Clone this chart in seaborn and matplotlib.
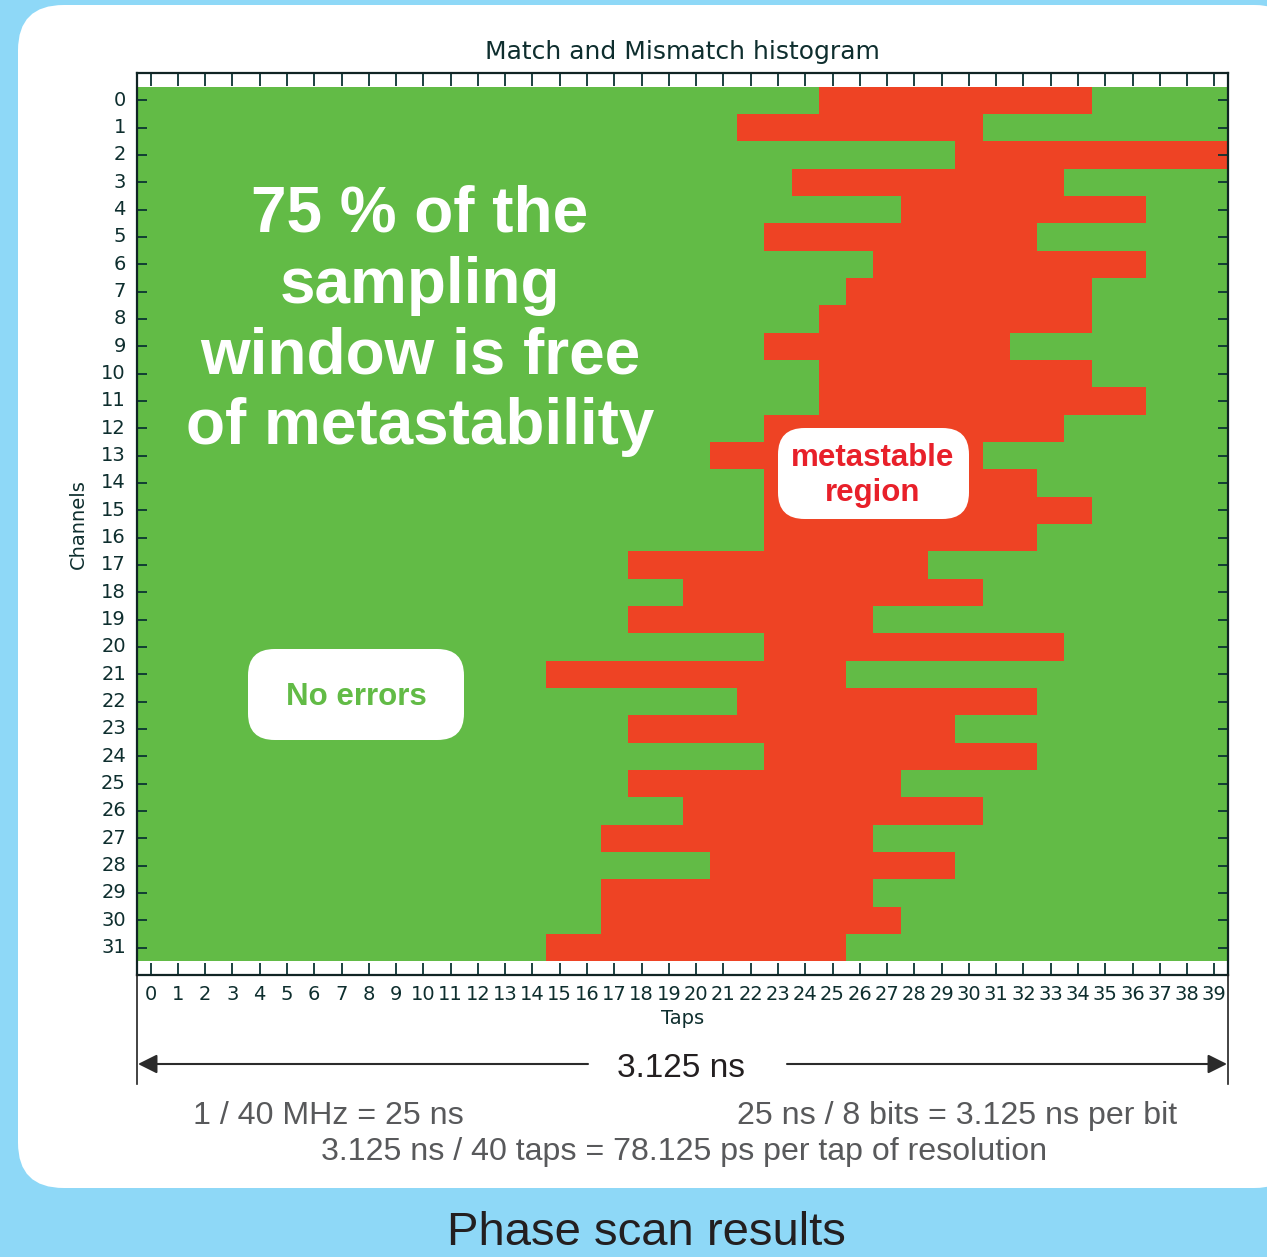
import numpy as np
import pandas as pd
import seaborn as sns
import matplotlib.pyplot as plt
from matplotlib.colors import ListedColormap
from matplotlib.patches import FancyBboxPatch
from matplotlib.lines import Line2D

# Phase scan: for every channel, the first and last tap that produced mismatches
channels = list(range(32))
taps = list(range(40))
first_mismatch_tap = [25, 22, 30, 24, 28, 23, 27, 26,
                      25, 23, 25, 25, 23, 21, 23, 23,
                      23, 18, 20, 18, 23, 15, 22, 18,
                      23, 18, 20, 17, 21, 17, 17, 15]
last_mismatch_tap = [34, 30, 39, 33, 36, 32, 36, 34,
                     34, 31, 34, 36, 33, 30, 32, 34,
                     32, 28, 30, 26, 33, 25, 32, 29,
                     32, 27, 30, 26, 29, 26, 27, 25]

GREEN = "#62bb46"
RED = "#ee4324"
LABEL_RED = "#e8202a"
BLUE_BG = "#8ed8f7"
DARK = "#0e2e2e"
GREY_TXT = "#58595b"
INK = "#231f20"

# 1 = mismatch, 0 = match
hist = pd.DataFrame(0, index=channels, columns=taps)
for ch, a, b in zip(channels, first_mismatch_tap, last_mismatch_tap):
    hist.loc[ch, a:b] = 1

W, H = 1267, 1257
fig = plt.figure(figsize=(W / 100, H / 100), dpi=100)
fig.patch.set_facecolor(BLUE_BG)


def fx(px):
    return px / W


def fy(py):
    return 1 - py / H


# white rounded panel behind the chart
panel = FancyBboxPatch((fx(18), fy(1188)), fx(1300) - fx(18), fy(5) - fy(1188),
                       boxstyle="round,pad=0,rounding_size=0.036",
                       transform=fig.transFigure, facecolor="white",
                       edgecolor="none", zorder=0)
fig.add_artist(panel)

ax = fig.add_axes([fx(137), fy(975), fx(1228) - fx(137), fy(73) - fy(975)])
ax.set_facecolor("white")
sns.heatmap(hist, cmap=ListedColormap([GREEN, RED]), vmin=0, vmax=1,
            cbar=False, ax=ax, xticklabels=taps, yticklabels=channels)
ax.set_xlim(0, 40)
ax.set_ylim(32.5, -0.5)

for s in ax.spines.values():
    s.set_visible(True)
    s.set_linewidth(1.6)
    s.set_color("#102424")

ax.tick_params(axis="x", direction="in", length=9, width=1.3, top=True,
               bottom=True, labeltop=False, labelbottom=True, color="#0b3333",
               labelsize=14, labelcolor=DARK, pad=7)
ax.tick_params(axis="y", direction="in", length=7, width=1.3, left=True,
               right=True, color="#0b3333", labelsize=14, labelcolor=DARK, pad=8)
plt.setp(ax.get_xticklabels(), rotation=0, family="DejaVu Sans")
plt.setp(ax.get_yticklabels(), rotation=0, family="DejaVu Sans")

ax.set_xlabel("Taps", fontsize=14, color=DARK, va="center")
ax.xaxis.set_label_coords(0.5, (975 - 1019) / 902)
ax.set_ylabel("Channels", fontsize=14, color=DARK, va="center")
ax.yaxis.set_label_coords((78 - 137) / 1091, 0.5)

fig.text(fx(682), fy(52), "Match and Mismatch histogram", ha="center",
         va="center", fontsize=18, color=DARK, family="DejaVu Sans")

# headline over the error-free region
head_lines = ["75 % of the", "sampling", "window is free", "of metastability"]
for line, base in zip(head_lines, [232, 303, 373, 444]):
    fig.text(fx(420), fy(base), line, ha="center", va="baseline",
             fontsize=46, fontweight="bold", color="white",
             family="Liberation Sans")

# callout boxes
for (x0, y0, x1, y1) in [(248, 649, 464, 740), (778, 428, 969, 519)]:
    fig.add_artist(FancyBboxPatch((fx(x0), fy(y1)), fx(x1) - fx(x0),
                                  fy(y0) - fy(y1),
                                  boxstyle="round,pad=0,rounding_size=0.021",
                                  transform=fig.transFigure,
                                  facecolor="white", edgecolor="none"))
fig.text(fx(356), fy(705), "No errors", ha="center", va="baseline",
         fontsize=22.5, fontweight="bold", color=GREEN, family="Liberation Sans")
fig.text(fx(873), fy(466), "metastable", ha="center", va="baseline",
         fontsize=22.5, fontweight="bold", color=LABEL_RED, family="Liberation Sans")
fig.text(fx(873), fy(501), "region", ha="center", va="baseline",
         fontsize=22.5, fontweight="bold", color=LABEL_RED, family="Liberation Sans")

# span of one bit period under the taps axis
for x in (137, 1228):
    fig.add_artist(Line2D([fx(x), fx(x)], [fy(975), fy(1084)],
                          transform=fig.transFigure, color="#222222", lw=1.2))
arrow = dict(arrowstyle="-|>", color="#2b2b2b", lw=1.5, mutation_scale=29,
             shrinkA=0, shrinkB=0)
ax.annotate("", xy=(138, H - 1064), xytext=(588, H - 1064),
            xycoords="figure pixels", textcoords="figure pixels",
            arrowprops=arrow, annotation_clip=False)
ax.annotate("", xy=(1227, H - 1064), xytext=(787, H - 1064),
            xycoords="figure pixels", textcoords="figure pixels",
            arrowprops=arrow, annotation_clip=False)
fig.text(fx(681), fy(1077), "3.125 ns", ha="center", va="baseline",
         fontsize=24, color=INK, family="Liberation Sans")

fig.text(fx(328), fy(1124), "1 / 40 MHz = 25 ns", ha="center", va="baseline",
         fontsize=23.1, color=GREY_TXT, family="Liberation Sans")
fig.text(fx(957), fy(1124), "25 ns / 8 bits = 3.125 ns per bit", ha="center",
         va="baseline", fontsize=23.1, color=GREY_TXT, family="Liberation Sans")
fig.text(fx(684), fy(1160), "3.125 ns / 40 taps = 78.125 ps per tap of resolution",
         ha="center", va="baseline", fontsize=23.1, color=GREY_TXT,
         family="Liberation Sans")

fig.text(fx(646), fy(1245), "Phase scan results", ha="center", va="baseline",
         fontsize=34, color=INK, family="Liberation Sans")

fig.savefig("out.png", dpi=100, facecolor=fig.get_facecolor())
